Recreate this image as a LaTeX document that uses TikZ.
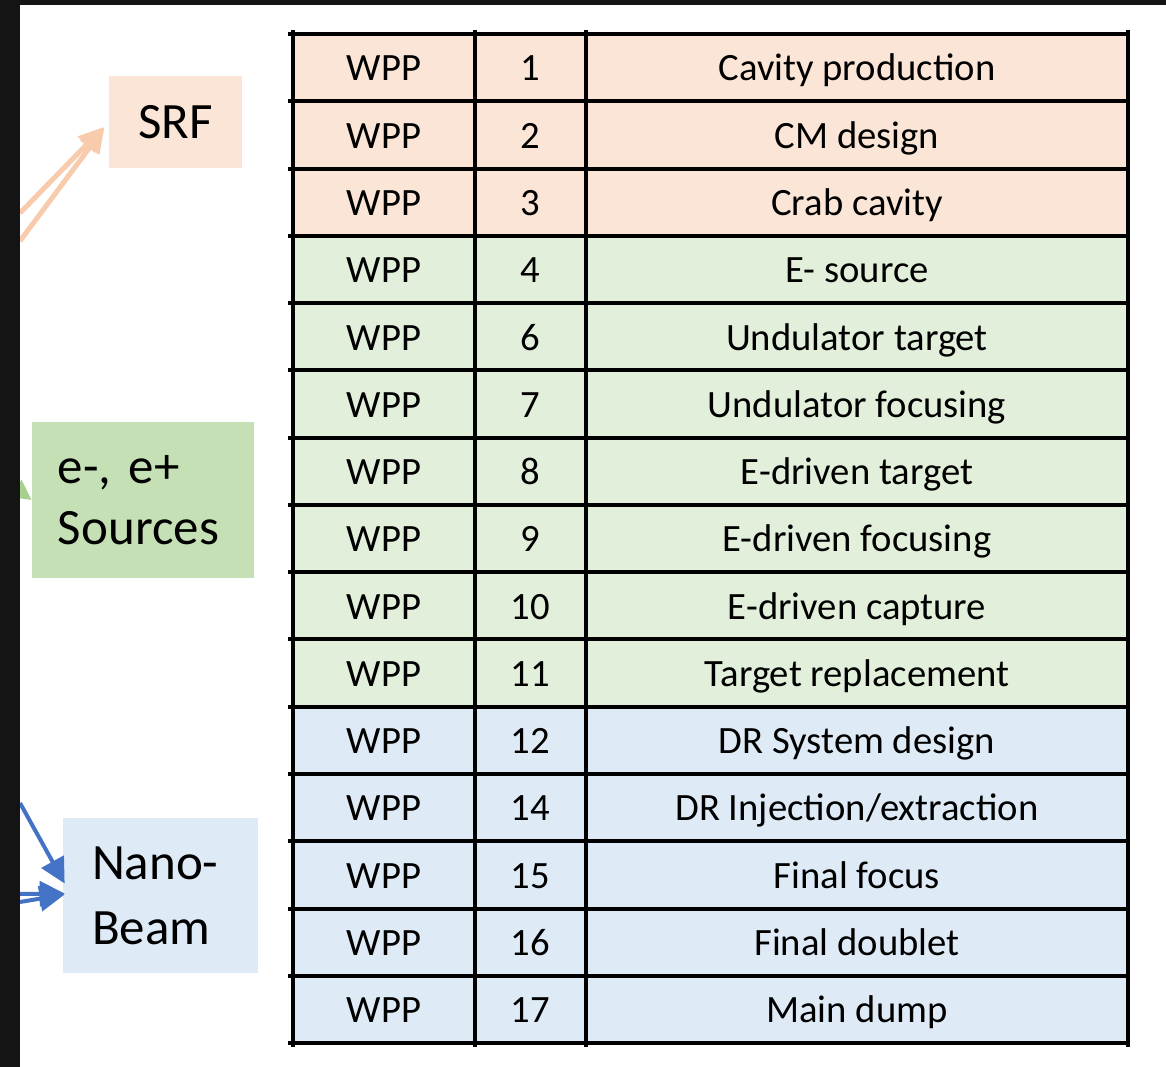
\documentclass[tikz,border=0pt]{standalone}
\usepackage{fontspec}
\setmainfont{Carlito}
\usetikzlibrary{arrows.meta,positioning,calc}
\definecolor{srfbg}{HTML}{FBE5D6}
\definecolor{srcbg}{HTML}{E2EFDA}
\definecolor{srcbox}{HTML}{C5E0B4}
\definecolor{nanobg}{HTML}{DEEBF7}
\definecolor{srfline}{HTML}{F8CBAD}
\definecolor{srcline}{HTML}{A9D18E}
\definecolor{nanoline}{HTML}{4472C4}
\tikzset{
  cell/.style={font=\fontsize{22}{26}\selectfont, inner sep=0pt, anchor=base},
  group/.style={font=\fontsize{29}{37}\selectfont, inner sep=0pt, align=left},
  grid/.style={line width=0.8mm, black}
}

\begin{document}
\begin{tikzpicture}[x=0.2mm,y=-0.2mm]
  % screenshot frame
  \fill[black!92] (0,0) rectangle (1166,1067);
  \fill[white] (20,5) rectangle (1166,1067);
  \useasboundingbox (0,0) rectangle (1166,1067);

  % group boxes on the left
  \node[group, fill=srfbg, minimum width=26.6mm, minimum height=18.4mm] (srf) at (175.5,122) {SRF};
  \node[group, fill=srcbox, minimum width=44.4mm, minimum height=31.2mm,
        text width=34mm, inner xsep=5.2mm] (sources) at (143,500) {\raisebox{-0.8mm}{e-, e+}\\Sources};
  \node[group, fill=nanobg, minimum width=39mm, minimum height=31mm,
        text width=27.4mm, inner xsep=5.8mm] (nano) at (160.5,895.5) {Nano-\\Beam};

  % incoming arrows, cut at the frame
  \coordinate (srfa) at (20,213);
  \coordinate (srfb) at (20,241);
  \coordinate (srca) at (-10,470);
  \coordinate (nanoa) at (20,803);
  \coordinate (nanob) at (20,894);
  \coordinate (nanoc) at (20,902);
  \begin{scope}
    \clip (20,5) rectangle (1166,1067);
    \draw[srfline, line width=1mm, shorten >=1.4mm, -{Triangle[length=5mm,width=4.6mm]}] (srfa) -- (srf.west);
    \draw[srfline, line width=1mm, shorten >=1.4mm, -{Triangle[length=5mm,width=4.6mm]}] (srfb) -- (srf.west);
    \draw[srcline, line width=0.8mm, -{Triangle[length=4mm,width=4mm]}] (srca) -- (sources.west);
    \draw[nanoline, line width=0.8mm, -{Triangle[length=5mm,width=5mm]}] (nanoa) -- ($(nano.west)+(2,-12)$);
    \draw[nanoline, line width=0.8mm, -{Triangle[length=5mm,width=5mm]}] (nanob) -- ($(nano.west)+(2,-2)$);
    \draw[nanoline, line width=0.8mm, -{Triangle[length=5mm,width=5mm]}] (nanoc) -- ($(nano.west)+(2,-1)$);
  \end{scope}

  % work package table
  \foreach \num/\task/\grp [count=\i from 0] in {
      1/Cavity production/srfbg, 2/CM design/srfbg, 3/Crab cavity/srfbg,
      4/E- source/srcbg, 6/Undulator target/srcbg, 7/Undulator focusing/srcbg,
      8/E-driven target/srcbg, 9/E-driven focusing/srcbg, 10/E-driven capture/srcbg,
      11/Target replacement/srcbg, 12/DR System design/nanobg,
      14/{DR Injection/extraction}/nanobg, 15/Final focus/nanobg,
      16/Final doublet/nanobg, 17/Main dump/nanobg} {
    \fill[\grp] (293,34+\i*67.27) rectangle (1128,34+\i*67.27+67.27);
    \node[cell] (wpp\i) at (384,34+\i*67.27+47) {WPP};
    \node[cell] (num\i) at (530,34+\i*67.27+47) {\num};
    \node[cell] (task\i) at (857,34+\i*67.27+47) {\task};
  }
  \foreach \i in {0,...,15}
    \draw[grid] (288,34+\i*67.27) -- (1130,34+\i*67.27);
  \foreach \x in {293,475,586,1128}
    \draw[grid] (\x,30) -- (\x,1047);
\end{tikzpicture}
\end{document}
